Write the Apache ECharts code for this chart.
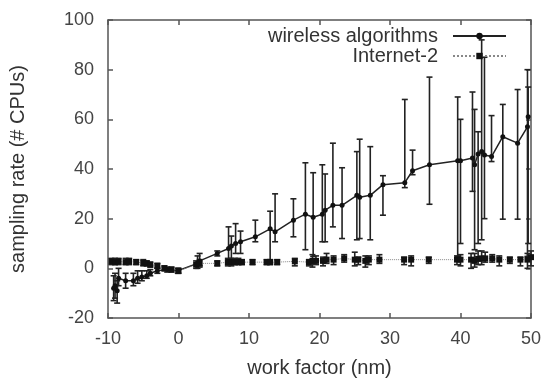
<!DOCTYPE html>
<html><head><meta charset="utf-8">
<script src="https://cdn.jsdelivr.net/npm/echarts@6/dist/echarts.min.js"></script>
<style>html,body{margin:0;padding:0;background:#fff}#c{width:548px;height:383px}</style>
</head><body><div id="c"></div>
<script>
// wireless algorithms: x, mean, low, high
const wirelessX  = [-9.2,-9.0,-8.7,-8.5,-7.5,-6.4,-5.8,-5.2,-4.5,-4.0,-3.0,-1.6,-0.1,2.7,3.0,5.5,7.1,7.5,8.1,8.8,10.9,13.0,13.7,16.3,18.0,19.1,20.4,20.8,21.9,23.2,25.3,25.7,27.2,29.0,32.1,33.2,35.6,39.6,40.0,41.7,42.0,42.5,43.0,43.4,44.4,46.0,48.1,49.5,49.6];
const wirelessY  = [-8,-7,-9,-4,-5,-5,-4,-3.5,-3,-2,-1,-0.5,-1,2,3,6,8,9,10,10.7,12.7,15.9,14.7,19.4,21.8,20.6,21.8,23.4,25.4,25.4,29.4,28.6,29.4,33.7,34.5,39.3,41.7,43.3,43.3,44.4,41.7,46,47,45.6,45,53,50.4,57,61];
const wirelessLo = [-13,-12,-14,-7,-8,-7,-6,-5,-4,-3,-2,-1.5,-2,0,1,5,3.6,2,6,6,10.7,2,10.7,12.7,7.5,4.8,10.7,10.7,16.7,12,11.5,12,11.5,21.4,32.5,37.7,25.8,4.8,10,31,7.5,10,11.5,20,43,19.8,19.8,4.8,10];
const wirelessHi = [-3,-2,-5,0,-2,-2,-1,-1,-1,-0.5,0,0.5,0,5,6,7,16.7,13,18,15,19.4,23,30,28,42.5,38.5,41.7,38,50.4,40.5,47,52,49,37.3,68,47.6,77,69,60,71,64,55,92,85,61.5,66,72,80,73];

// Internet-2: x, mean, low, high
const inetX  = [-9.5,-9,-8.5,-7.5,-7,-6,-5,-4.5,-4,-3,-2,-1,0,2.5,3,5.5,7,7.5,8,8.5,9,10.5,12.5,13,14,16.5,18.5,19,19.5,20.5,21,22,23.5,25,25.5,26.5,27,28.5,32,33,35.5,39.5,40,41.5,42,42.5,43,43.5,44.5,45.5,47,48.5,49.5,50];
const inetY  = [2.8,2.5,2.8,2.5,2.8,2.5,2.2,2,1.5,1,0,-0.5,-1,1.5,2,2,2.5,2.5,2.5,2.5,2.5,2.5,2.5,2.5,2.5,2.8,2.5,3,3,3,3.5,3.5,4,3.5,3.5,3,3.5,3.5,3.5,3.5,3.5,3.5,3.5,3.5,3,3.8,4,4,4,3.5,3.5,3.5,3.5,4.5];
const inetLo = [1.5,1.5,1.5,1.5,1.5,1.5,1,1,0.5,0,-1,-1.5,-2,0,0.5,1,1,1,1.5,1.5,1.5,1.5,1.5,1.5,1.5,1,1,0.5,1.5,1,2,1.5,2.5,1,1.5,0.5,1.5,2,1.5,1,2,1.5,1,0,0.5,1.5,1.5,2.5,2.5,1,2,1,0,1];
const inetHi = [4,4,4,4,4,3.5,3.5,3,2.5,2,1,0.5,0,3,3.5,3,4,4,4,4,3.5,3.5,3.5,3.5,3.5,4,3.5,5.5,5,4.5,6,5,5.5,6.5,4.5,5,5,5.5,4.5,5,4.5,5,5.5,6,6,7,7,6.5,5.5,5,4.5,4.5,6,7];

// tick labels
const xTicks = [-10,0,10,20,30,40,50];
const yTicks = [-20,0,20,40,60,80,100];

const wirelessData = wirelessX.map((x,i)=>[x,wirelessY[i]]);
const inetData = inetX.map((x,i)=>[x,inetY[i]]);
const wirelessErr = wirelessX.map((x,i)=>[x,wirelessLo[i],wirelessHi[i]]);
const inetErr = inetX.map((x,i)=>[x,inetLo[i],inetHi[i]]);

function errRender(color){
  return function(params, api){
    const x = api.value(0);
    const lo = api.coord([x, api.value(1)]);
    const hi = api.coord([x, api.value(2)]);
    const w = 3;
    const st = {stroke: color, lineWidth: 1.6};
    return {type:'group', children:[
      {type:'line', shape:{x1:lo[0],y1:lo[1],x2:hi[0],y2:hi[1]}, style:st},
      {type:'line', shape:{x1:lo[0]-w,y1:lo[1],x2:lo[0]+w,y2:lo[1]}, style:st},
      {type:'line', shape:{x1:hi[0]-w,y1:hi[1],x2:hi[0]+w,y2:hi[1]}, style:st}
    ]};
  };
}

const font = '"Liberation Sans", Arial, sans-serif';
const axisLineStyle = {color:'#555', width:1.5};
const chart = echarts.init(document.getElementById('c'), null, {renderer:'canvas'});
chart.setOption({
  animation:false,
  backgroundColor:'#fff',
  grid:{left:107, right:17, top:20, bottom:61},
  legend:{
    orient:'vertical', right:36, top:21, align:'right',
    itemWidth:53, itemHeight:8, itemGap:0,
    textStyle:{fontFamily:font, fontSize:20, color:'#333', padding:[0,10,0,0]},
    data:['wireless algorithms','Internet-2']
  },
  xAxis:[{
    type:'value', min:-10, max:50, interval:10,
    name:'work factor (nm)', nameLocation:'middle', nameGap:40,
    nameTextStyle:{fontFamily:font, fontSize:20, color:'#333'},
    axisLine:{show:true, onZero:false, lineStyle:axisLineStyle},
    axisTick:{show:true, inside:true, length:5, lineStyle:axisLineStyle},
    axisLabel:{fontFamily:font, fontSize:18, color:'#444', margin:12},
    splitLine:{show:false}
  },{
    type:'value', position:'top', min:-10, max:50, interval:10,
    axisLine:{show:true, onZero:false, lineStyle:axisLineStyle},
    axisTick:{show:true, inside:true, length:5, lineStyle:axisLineStyle},
    axisLabel:{show:false}, splitLine:{show:false}
  }],
  yAxis:[{
    type:'value', min:-20, max:100, interval:20,
    name:'sampling rate (# CPUs)', nameLocation:'middle', nameGap:80,
    nameTextStyle:{fontFamily:font, fontSize:20, color:'#333'},
    axisLine:{show:true, onZero:false, lineStyle:axisLineStyle},
    axisTick:{show:true, inside:true, length:5, lineStyle:axisLineStyle},
    axisLabel:{fontFamily:font, fontSize:18, color:'#444', margin:14},
    splitLine:{show:false}
  },{
    type:'value', position:'right', min:-20, max:100, interval:20,
    axisLine:{show:true, onZero:false, lineStyle:axisLineStyle},
    axisTick:{show:true, inside:true, length:5, lineStyle:axisLineStyle},
    axisLabel:{show:false}, splitLine:{show:false}
  }],
  series:[
    {name:'wireless algorithms', type:'line', data:wirelessData,
     symbol:'circle', symbolSize:5, lineStyle:{color:'#222', width:1.5},
     itemStyle:{color:'#111'}, z:3},
    {name:'Internet-2', type:'line', data:inetData,
     symbol:'rect', symbolSize:6, lineStyle:{color:'#888', width:1, type:'dotted'},
     itemStyle:{color:'#111'}, z:3},
    {type:'custom', data:wirelessErr, renderItem:errRender('#222'), encode:{x:0,y:[1,2]}, z:2},
    {type:'custom', data:inetErr, renderItem:errRender('#222'), encode:{x:0,y:[1,2]}, z:2}
  ]
});
</script></body></html>
